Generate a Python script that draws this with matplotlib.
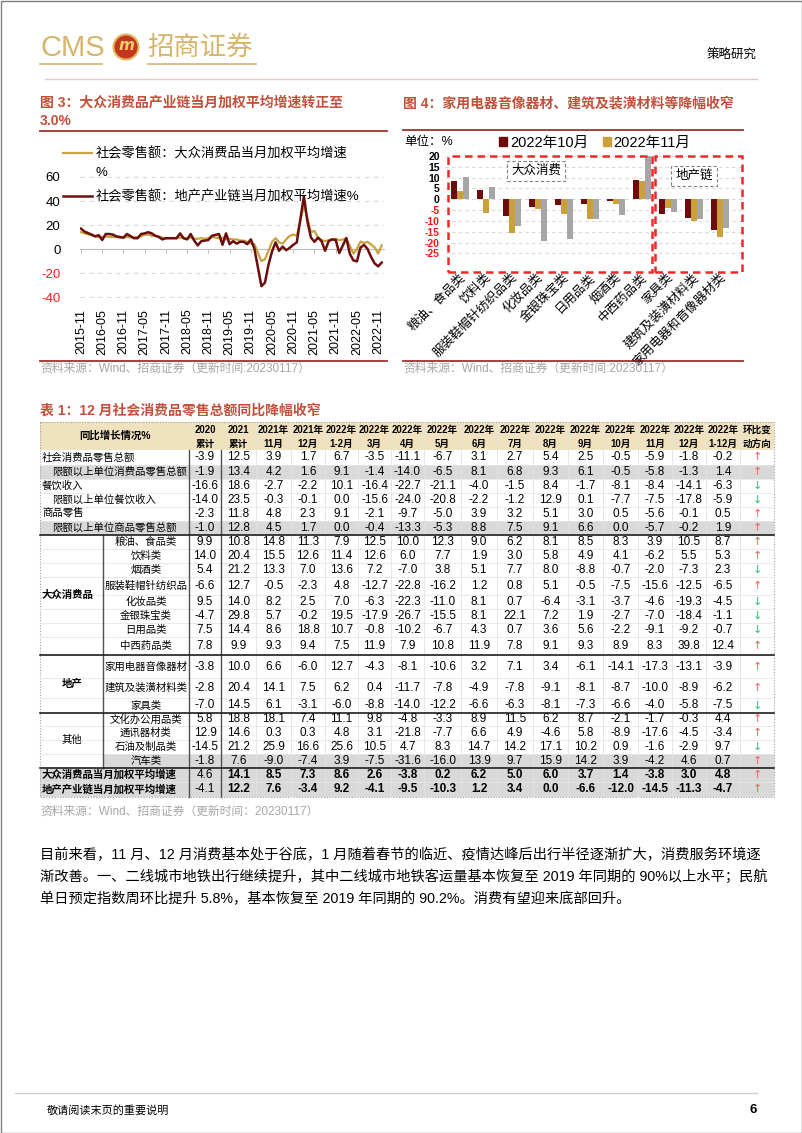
import matplotlib
matplotlib.use("Agg")
import matplotlib.pyplot as plt
from matplotlib.patches import Rectangle, Circle, Patch
from matplotlib.lines import Line2D

plt.rcParams["font.family"] = ["Liberation Sans", "Noto Sans CJK SC", "DejaVu Sans"]
plt.rcParams["axes.unicode_minus"] = False

W, H = 802, 1133

# ---------------- figure 3: monthly weighted growth (Jan is merged into Feb) ----------------
line_months = ["2015-11", "2015-12"] + [f"{y}-{m:02d}" for y in range(2016, 2023) for m in range(2, 13)]
mass_avg = [14, 13,
            11.5, 10.5, 10, 10, 10.5, 10, 10, 10, 9.5, 9.5, 10,
            9.5, 10, 10.5, 12, 12, 11, 11, 10.5, 9.5, 9, 9,
            9, 9.5, 9, 9, 9.5, 8.5, 8.5, 9, 8.5, 9, 10,
            9, 9.5, 8, 8.5, 8, 8, 7, 7, 6, 4.5, 4,
            -10, -8.5, -1.5, 6, 9, 5.5, 4.5, 8, 11, 12, 11,
            36, 26, 14, 15, 9.5, 7.5, 6.5, 7.5, 8, 8.5, 7.3,
            8.6, 2.6, -3.8, 0.2, 6.2, 5.0, 6.0, 3.7, 1.4, -3.8, 3.0]
property_avg = [17, 14.5,
                12, 10.5, 11.5, 7.5, 12.5, 12.5, 12, 10.5, 10, 9.5, 12.5,
                9, 9, 12.5, 13, 14, 13, 11, 10, 8, 9, 9,
                9, 13, 9, 8, 12.5, 7, 3, 6.5, 7, 7.5, 11,
                12.5, 3.5, 13, 4, 6.5, 4.5, 6, 6, 4, 8, 0.5,
                -31, -28, -13, -2, 5.5, -1.5, 2, -1, 1, 3.5, 5.5,
                44, 23, 9.5, 6, 9.5, 6.5, -1.5, 6.5, 8, 7.6, -3.4,
                9.2, -4.1, -9.5, -10.3, 1.2, 3.4, 0.0, -6.6, -12.0, -14.5, -11.3]
line_ticks = ["2015-11", "2016-05", "2016-11", "2017-05", "2017-11", "2018-05", "2018-11", "2019-05",
              "2019-11", "2020-05", "2020-11", "2021-05", "2021-11", "2022-05", "2022-11"]
line_names = ["社会零售额：大众消费品当月加权平均增速", "社会零售额：地产产业链当月加权平均增速%"]

# ---------------- figure 4: category growth ----------------
bar_categories = ["粮油、食品类", "饮料类", "服装鞋帽针纺织品类", "化妆品类", "金银珠宝类", "日用品类",
                  "烟酒类", "中西药品类", "家具类", "建筑及装潢材料类", "家用电器和音像器材类"]
oct_2022 = [8.3, 4.1, -7.5, -3.7, -2.7, -2.2, -0.7, 8.9, -6.6, -8.7, -14.1]
nov_2022 = [3.9, -6.2, -15.6, -4.6, -7.0, -9.1, -2.0, 8.3, -4.0, -10.0, -17.3]
dec_2022 = [10.5, 5.5, -12.5, -19.3, -18.4, -9.2, -7.3, 39.8, -5.8, -8.9, -13.1]
bar_names = ["2022年10月", "2022年11月"]

# ---------------- table 1 ----------------
col_top = ["2020", "2021", "2021年", "2021年"] + ["2022年"] * 12 + ["环比变"]
col_bottom = ["累计", "累计", "11月", "12月", "1-2月", "3月", "4月", "5月", "6月", "7月", "8月",
              "9月", "10月", "11月", "12月", "1-12月", "动方向"]

total_labels = ["社会消费品零售总额", "限额以上单位消费品零售总额", "餐饮收入", "限额以上单位餐饮收入",
                "商品零售", "限额以上单位商品零售总额"]
total_values = [
    [-3.9, 12.5, 3.9, 1.7, 6.7, -3.5, -11.1, -6.7, 3.1, 2.7, 5.4, 2.5, -0.5, -5.9, -1.8, -0.2],
    [-1.9, 13.4, 4.2, 1.6, 9.1, -1.4, -14.0, -6.5, 8.1, 6.8, 9.3, 6.1, -0.5, -5.8, -1.3, 1.4],
    [-16.6, 18.6, -2.7, -2.2, 10.1, -16.4, -22.7, -21.1, -4.0, -1.5, 8.4, -1.7, -8.1, -8.4, -14.1, -6.3],
    [-14.0, 23.5, -0.3, -0.1, 0.0, -15.6, -24.0, -20.8, -2.2, -1.2, 12.9, 0.1, -7.7, -7.5, -17.8, -5.9],
    [-2.3, 11.8, 4.8, 2.3, 9.1, -2.1, -9.7, -5.0, 3.9, 3.2, 5.1, 3.0, 0.5, -5.6, -0.1, 0.5],
    [-1.0, 12.8, 4.5, 1.7, 0.0, -0.4, -13.3, -5.3, 8.8, 7.5, 9.1, 6.6, 0.0, -5.7, -0.2, 1.9],
]
mass_labels = ["粮油、食品类", "饮料类", "烟酒类", "服装鞋帽针纺织品", "化妆品类", "金银珠宝类",
               "日用品类", "中西药品类"]
mass_values = [
    [9.9, 10.8, 14.8, 11.3, 7.9, 12.5, 10.0, 12.3, 9.0, 6.2, 8.1, 8.5, 8.3, 3.9, 10.5, 8.7],
    [14.0, 20.4, 15.5, 12.6, 11.4, 12.6, 6.0, 7.7, 1.9, 3.0, 5.8, 4.9, 4.1, -6.2, 5.5, 5.3],
    [5.4, 21.2, 13.3, 7.0, 13.6, 7.2, -7.0, 3.8, 5.1, 7.7, 8.0, -8.8, -0.7, -2.0, -7.3, 2.3],
    [-6.6, 12.7, -0.5, -2.3, 4.8, -12.7, -22.8, -16.2, 1.2, 0.8, 5.1, -0.5, -7.5, -15.6, -12.5, -6.5],
    [9.5, 14.0, 8.2, 2.5, 7.0, -6.3, -22.3, -11.0, 8.1, 0.7, -6.4, -3.1, -3.7, -4.6, -19.3, -4.5],
    [-4.7, 29.8, 5.7, -0.2, 19.5, -17.9, -26.7, -15.5, 8.1, 22.1, 7.2, 1.9, -2.7, -7.0, -18.4, -1.1],
    [7.5, 14.4, 8.6, 18.8, 10.7, -0.8, -10.2, -6.7, 4.3, 0.7, 3.6, 5.6, -2.2, -9.1, -9.2, -0.7],
    [7.8, 9.9, 9.3, 9.4, 7.5, 11.9, 7.9, 10.8, 11.9, 7.8, 9.1, 9.3, 8.9, 8.3, 39.8, 12.4],
]
property_labels = ["家用电器音像器材", "建筑及装潢材料类", "家具类"]
property_values = [
    [-3.8, 10.0, 6.6, -6.0, 12.7, -4.3, -8.1, -10.6, 3.2, 7.1, 3.4, -6.1, -14.1, -17.3, -13.1, -3.9],
    [-2.8, 20.4, 14.1, 7.5, 6.2, 0.4, -11.7, -7.8, -4.9, -7.8, -9.1, -8.1, -8.7, -10.0, -8.9, -6.2],
    [-7.0, 14.5, 6.1, -3.1, -6.0, -8.8, -14.0, -12.2, -6.6, -6.3, -8.1, -7.3, -6.6, -4.0, -5.8, -7.5],
]
other_labels = ["文化办公用品类", "通讯器材类", "石油及制品类", "汽车类"]
other_values = [
    [5.8, 18.8, 18.1, 7.4, 11.1, 9.8, -4.8, -3.3, 8.9, 11.5, 6.2, 8.7, -2.1, -1.7, -0.3, 4.4],
    [12.9, 14.6, 0.3, 0.3, 4.8, 3.1, -21.8, -7.7, 6.6, 4.9, -4.6, 5.8, -8.9, -17.6, -4.5, -3.4],
    [-14.5, 21.2, 25.9, 16.6, 25.6, 10.5, 4.7, 8.3, 14.7, 14.2, 17.1, 10.2, 0.9, -1.6, -2.9, 9.7],
    [-1.8, 7.6, -9.0, -7.4, 3.9, -7.5, -31.6, -16.0, 13.9, 9.7, 15.9, 14.2, 3.9, -4.2, 4.6, 0.7],
]
weighted_labels = ["大众消费品当月加权平均增速", "地产产业链当月加权平均增速"]
weighted_values = [
    [4.6, 14.1, 8.5, 7.3, 8.6, 2.6, -3.8, 0.2, 6.2, 5.0, 6.0, 3.7, 1.4, -3.8, 3.0, 4.8],
    [-4.1, 12.2, 7.6, -3.4, 9.2, -4.1, -9.5, -10.3, 1.2, 3.4, 0.0, -6.6, -12.0, -14.5, -11.3, -4.7],
]

paragraph = [
    "目前来看，11 月、12 月消费基本处于谷底，1 月随着春节的临近、疫情达峰后出行半径逐渐扩大，消费服务环境逐",
    "渐改善。一、二线城市地铁出行继续提升，其中二线城市地铁客运量基本恢复至 2019 年同期的 90%以上水平；民航",
    "单日预定指数周环比提升 5.8%，基本恢复至 2019 年同期的 90.2%。消费有望迎来底部回升。",
]

TITLE_C = "#C3503B"
RULE_C = "#A3302A"
GOLD = "#C9A23F"
DARK = "#6B0E0E"
NEG = "#FF1A1A"
SRC = "#A6A6A6"

fig = plt.figure(figsize=(W / 100, H / 100), dpi=100)
pg = fig.add_axes([0, 0, 1, 1], zorder=0)
pg.set_xlim(0, W)
pg.set_ylim(H, 0)
pg.axis("off")


def ptext(x, y, s, **kw):
    kw.setdefault("va", "center")
    return fig.text(x, y, s, transform=pg.transData, **kw)


def hline(y, x0, x1, **kw):
    pg.add_line(Line2D([x0, x1], [y, y], **kw))


def vline(x, y0, y1, **kw):
    pg.add_line(Line2D([x, x], [y0, y1], **kw))


# page frame, header, footer
pg.add_patch(Rectangle((0.5, 0.5), W - 1, H - 1, fill=False, ec="#808080", lw=1))
ptext(40, 48, "CMS", fontsize=21, color="#D6B56A", family=["Liberation Sans"])
pg.add_patch(Circle((126, 47), 12.5, fc="#C2371E", ec="#E2B65B", lw=1.5))
ptext(126, 46, "m", fontsize=11, color="#F1CD6E", ha="center", fontweight="bold", style="italic",
      family=["DejaVu Sans"])
ptext(147, 47, "招商证券", fontsize=19, color="#D6B56A", family=["Noto Sans CJK SC"])
hline(64, 40, 102, color="#D6B56A", lw=1.2)
hline(64, 148, 256, color="#D6B56A", lw=1.2)
ptext(757, 56, "策略研究", fontsize=9, ha="right")
hline(79, 45, 757, color="#DCCBC4", lw=1)
hline(1093, 15, 757, color="#D0D0D0", lw=1)
ptext(47, 1110, "敬请阅读末页的重要说明", fontsize=8)
ptext(757, 1110, "6", fontsize=9.5, ha="right", fontweight="bold")

# ---------------- figure 3 ----------------
ptext(40, 103, "图 3：大众消费品产业链当月加权平均增速转正至", fontsize=10, color=TITLE_C, fontweight="bold")
ptext(40, 121, "3.0%", fontsize=10, color=TITLE_C, fontweight="bold")
hline(131, 40, 387, color=RULE_C, lw=1.3)
hline(361, 40, 387, color=RULE_C, lw=1.3)
ptext(40, 369, "资料来源：Wind、招商证券（更新时间:20230117）", fontsize=8.5, color=SRC)

px_month = (381.7 - 81) / 85
ax3 = fig.add_axes([80 / W, 1 - 297.6 / H, 304 / W, 121.2 / H], zorder=2)
ax3.patch.set_alpha(0)
xs = [(int(s[:4]) - 2015) * 12 + int(s[5:]) - 11 for s in line_months]
l1, = ax3.plot(xs, mass_avg, color=GOLD, lw=1.6, zorder=3)
l2, = ax3.plot(xs, property_avg, color=DARK, lw=1.8, zorder=4)
ax3.set_xlim(-1 / px_month, 303 / px_month)
ax3.set_ylim(-40.5, 60.5)
for s in ["top", "right", "left"]:
    ax3.spines[s].set_visible(False)
ax3.spines["bottom"].set_position(("data", 0))
ax3.spines["bottom"].set_color("#BFBFBF")
tick_pos = [(int(s[:4]) - 2015) * 12 + int(s[5:]) - 11 for s in line_ticks]
ax3.set_xticks(tick_pos)
ax3.tick_params(axis="x", length=3, color="#BFBFBF", labelbottom=False)
sec = ax3.secondary_xaxis("bottom")
sec.set_xticks(tick_pos, line_ticks, rotation=90, fontsize=9)
sec.tick_params(length=0, pad=8)
sec.spines["bottom"].set_visible(False)
ax3.set_yticks([-40, -20, 0, 20, 40, 60])
ax3.tick_params(axis="y", length=0, pad=14, labelsize=9.5)
for lab, v in zip(ax3.get_yticklabels(), [-40, -20, 0, 20, 40, 60]):
    lab.set_color(NEG if v < 0 else "black")
ax3.yaxis.grid(True, color="#D9D9D9", lw=0.8, ls=(0, (4, 4)))
ax3.set_axisbelow(True)
ax3.legend([l1, l2], line_names, loc="upper left", bbox_to_anchor=(63 / W, 1 - 147.5 / H),
           bbox_transform=fig.transFigure, frameon=False, fontsize=9.5, handlelength=2.2,
           handletextpad=0.25, labelspacing=2.25, borderpad=0, borderaxespad=0)
ptext(95, 173, "%", fontsize=9.5)

# ---------------- figure 4 ----------------
ptext(403, 103, "图 4：家用电器音像器材、建筑及装潢材料等降幅收窄", fontsize=10, color=TITLE_C, fontweight="bold")
hline(130, 403, 743, color=RULE_C, lw=1.3)
hline(361, 403, 743, color=RULE_C, lw=1.3)
ptext(403, 369, "资料来源：Wind、招商证券（更新时间:20230117）", fontsize=8.5, color=SRC)

unit = 26.0
ax4 = fig.add_axes([445.4 / W, 1 - 272 / H, 299 / W, 116 / H], zorder=2)
ax4.patch.set_alpha(0)
idx = list(range(len(bar_categories)))
bw = 6 / unit
ax4.bar([i - bw for i in idx], oct_2022, bw, color="#6E0B0B")
ax4.bar(idx, nov_2022, bw, color="#C9A03A")
ax4.bar([i + bw for i in idx], dec_2022, bw, color="#A6A6A6")
ax4.set_xlim(-0.55, 10.95)
ax4.set_ylim(-33.6, 19.8)
for s in ax4.spines.values():
    s.set_visible(False)
ax4.set_xticks([])
yt = list(range(-25, 21, 5))
ax4.set_yticks(yt)
ax4.tick_params(axis="y", length=0, pad=4, labelsize=7.6)
for lab, v in zip(ax4.get_yticklabels(), yt):
    lab.set_color(NEG if v < 0 else "black")
    lab.set_fontweight("bold")
ax4.yaxis.grid(True, color="#D9D9D9", lw=0.8, ls=(0, (3, 3)))
ax4.set_axisbelow(True)
box_kw = dict(fill=False, ec="#F02828", lw=1.8, ls=(0, (3, 2)), clip_on=False, zorder=5)
ax4.add_patch(Rectangle((-0.45, -33.6), 7.85, 53.4, **box_kw))
ax4.add_patch(Rectangle((7.51, -33.6), 3.35, 53.4, **box_kw))
for i, name in enumerate(bar_categories):
    ax4.text(i + 0.12, -35.2, name, rotation=45, rotation_mode="anchor", ha="right", va="center",
             fontsize=9, family=["Noto Sans CJK SC"])
ax4.legend([Patch(color="#6E0B0B"), Patch(color="#C9A03A")], bar_names, ncol=2, loc="center left",
           bbox_to_anchor=(499 / W, 1 - 143 / H), bbox_transform=fig.transFigure, frameon=False,
           fontsize=10.5, handlelength=0.55, handleheight=0.55, handletextpad=0.2, columnspacing=1.0,
           borderpad=0, borderaxespad=0)
ptext(404, 142.5, "单位：%", fontsize=9)
tag_kw = dict(boxstyle="square,pad=0.35", fc="white", ec="#808080", lw=0.8, ls=(0, (3, 2)))
ptext(536, 171, "大众消费", fontsize=9, ha="center", bbox=tag_kw)
ptext(694, 176, "地产链", fontsize=9, ha="center", bbox=tag_kw)

# ---------------- table 1 ----------------
ptext(40, 411, "表 1：12 月社会消费品零售总额同比降幅收窄", fontsize=10, color=TITLE_C, fontweight="bold")
col_edges = [40, 189, 221, 256, 291, 325, 358, 391, 424, 461, 497, 533, 568, 603, 638, 672, 706, 740, 774]
row_edges = [422, 450, 465, 479, 493, 507, 521, 535, 549, 563, 577, 595, 609, 623, 637, 655,
             678, 698, 713, 726, 740, 754, 768, 782, 797]
L, R = col_edges[0], col_edges[-1]
cx = [(a + b) / 2 for a, b in zip(col_edges[:-1], col_edges[1:])]

rows = []
for k, (lab, vals) in enumerate(zip(total_labels, total_values)):
    rows.append((lab, vals, "sub" if k % 2 else "main", k % 2 == 1 and k != 3))
for lab, vals in zip(mass_labels, mass_values):
    rows.append((lab, vals, "item", False))
for lab, vals in zip(property_labels, property_values):
    rows.append((lab, vals, "item", False))
for lab, vals in zip(other_labels, other_values):
    rows.append((lab, vals, "item", lab == "汽车类"))
for lab, vals in zip(weighted_labels, weighted_values):
    rows.append((lab, vals, "bold", True))

pg.add_patch(Rectangle((L, row_edges[0]), R - L, row_edges[1] - row_edges[0], fc="#F1E2BF", ec="none"))
for r, (lab, vals, kind, gray) in enumerate(rows):
    y0, y1 = row_edges[r + 1], row_edges[r + 2]
    if gray:
        x0 = 103 if kind == "item" else L
        pg.add_patch(Rectangle((x0, y0), R - x0, y1 - y0, fc="#D9D9D9", ec="none"))
for x in col_edges[3:-1]:
    vline(x, row_edges[0], row_edges[-1], color="#E2E2E2", lw=0.6)
for y in row_edges[2:-1]:
    hline(y, L, R, color="#E6E6E6", lw=0.6)
vline(189, row_edges[1], row_edges[-1], color="#505050", lw=1)
vline(221, row_edges[1], row_edges[-1], color="#505050", lw=1)
vline(103, 535, 768, color="#505050", lw=1)
for y in [535, 655, 713, 768]:
    hline(y, L, R, color="#202020", lw=1.2)
pg.add_patch(Rectangle((L, row_edges[0]), R - L, row_edges[-1] - row_edges[0], fill=False,
                       ec="#A0A0A0", lw=0.8, ls=(0, (1, 1.5))))

ptext(115, 436, "同比增长情况%", fontsize=7.5, ha="center", fontweight="bold")
for c, (t, b) in enumerate(zip(col_top, col_bottom)):
    ptext(cx[c + 1], 430, t, fontsize=6.9, ha="center", fontweight="bold")
    ptext(cx[c + 1], 443.5, b, fontsize=6.9, ha="center", fontweight="bold")

for r, (lab, vals, kind, gray) in enumerate(rows):
    yc = (row_edges[r + 1] + row_edges[r + 2]) / 2
    if kind == "main":
        ptext(42, yc, lab, fontsize=7.5)
    elif kind == "sub":
        ptext(52, yc, lab, fontsize=7.5)
    elif kind == "bold":
        ptext(42, yc, lab, fontsize=7.5, fontweight="bold")
    else:
        ptext(146, yc, lab, fontsize=7.5, ha="center")
    for c, v in enumerate(vals):
        bold = kind == "bold" and c > 0
        ptext(cx[c + 1], yc, f"{v:.1f}", fontsize=8.5, ha="center",
              fontweight="bold" if bold else "normal")
    up = vals[14] > vals[13]
    ptext(cx[-1], yc, "↑" if up else "↓", fontsize=8, ha="center", color="#FF5A5A" if up else "#2DBE6C",
          family=["DejaVu Sans"])

ptext(42, 595, "大众消费品", fontsize=7.5, fontweight="bold")
ptext(72, 684, "地产", fontsize=7.5, fontweight="bold", ha="center")
ptext(72, 740, "其他", fontsize=7.5, ha="center")
ptext(40, 812, "资料来源：Wind、招商证券（更新时间：20230117）", fontsize=8.5, color=SRC)

# paragraph, font sized so the first line fills the text block
renderer = fig.canvas.get_renderer()
probe = ptext(40, 855, paragraph[0], fontsize=10)
fs = 10 * 717 / probe.get_window_extent(renderer).width
probe.remove()
for k, line in enumerate(paragraph):
    ptext(40, 855 + 22 * k, line, fontsize=fs)

fig.savefig("out.png", dpi=100)
